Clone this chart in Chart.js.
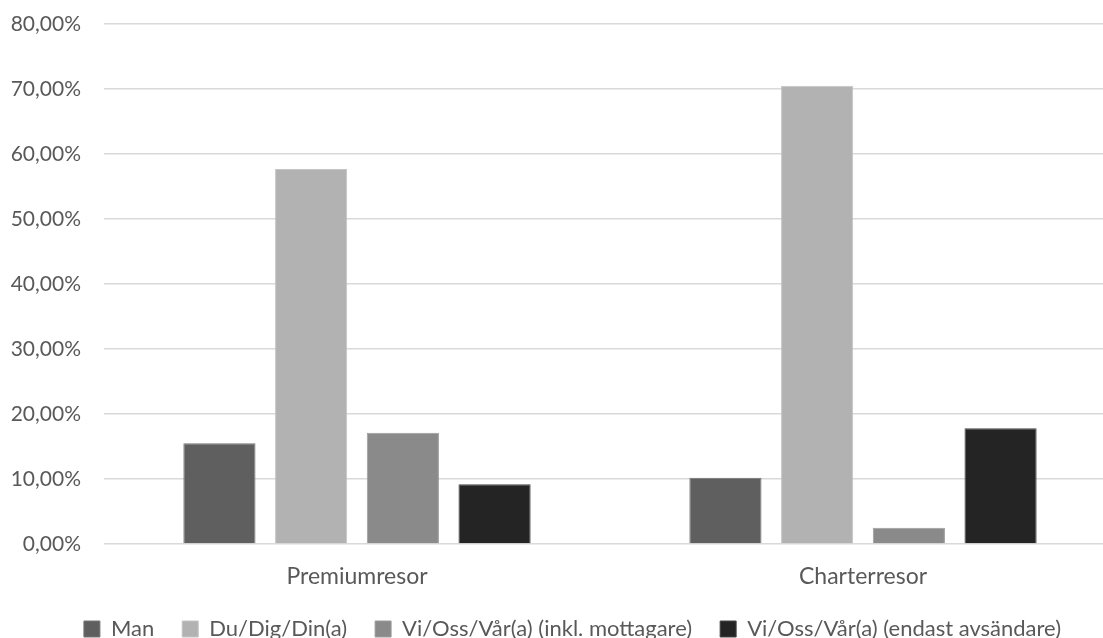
<!DOCTYPE html>
<html lang="sv">
<head>
<meta charset="utf-8">
<title>Tilltal i reseannonser</title>
<script src="https://cdn.jsdelivr.net/npm/chart.js@4.4.1/dist/chart.umd.min.js"></script>
<style>
  html, body { margin: 0; padding: 0; background: #ffffff; overflow: hidden; }
  #wrap { position: relative; width: 1145px; height: 650px; }
</style>
</head>
<body>
<div id="wrap"><canvas id="chart"></canvas></div>
<script>
// Kategorier (resetyp)
const categories = ['Premiumresor', 'Charterresor'];

// Andel tilltal per resetyp, i procent
const manValues = [15.5, 10.2];
const duValues = [57.7, 70.5];
const viInklValues = [17.1, 2.5];
const viEndastValues = [9.2, 17.8];

// Serienamn
const seriesNames = [
  'Man',
  'Du/Dig/Din(a)',
  'Vi/Oss/Vår(a) (inkl. mottagare)',
  'Vi/Oss/Vår(a) (endast avsändare)'
];

// Y-axelns skala
const yMin = 0;
const yMax = 80;
const yStep = 10;

const fillColors = ['#5f5f5f', '#b2b2b2', '#8a8a8a', '#242424'];
const edgeColors = ['#767676', '#c4c4c4', '#9c9c9c', '#474747'];
const textColor = '#595959';
const gridColor = '#d9d9d9';
const fontFamily = 'Lato, "Open Sans", sans-serif';

const seriesValues = [manValues, duValues, viInklValues, viEndastValues];

const datasets = seriesNames.map((name, i) => ({
  label: name,
  data: seriesValues[i],
  backgroundColor: fillColors[i],
  borderColor: edgeColors[i],
  borderWidth: 1,
  categoryPercentage: 0.725,
  barPercentage: 0.787
}));

const formatPercent = v => Number(v).toFixed(2).replace('.', ',') + '%';

new Chart(document.getElementById('chart'), {
  type: 'bar',
  data: { labels: categories, datasets },
  options: {
    responsive: true,
    maintainAspectRatio: false,
    animation: false,
    layout: { padding: { top: 24, right: 0, bottom: 0, left: 0 } },
    plugins: {
      tooltip: { enabled: false },
      legend: {
        position: 'bottom',
        labels: {
          color: textColor,
          font: { family: fontFamily, size: 22 },
          boxWidth: 16,
          boxHeight: 16,
          padding: 28
        }
      }
    },
    scales: {
      x: {
        grid: { display: false, drawTicks: false },
        border: { display: false },
        ticks: {
          color: textColor,
          font: { family: fontFamily, size: 23 },
          padding: 19
        },
        // plottytan slutar en bit före högerkanten
        afterFit: s => { s.height = 46; s.paddingRight = 29; s.paddingLeft = 0; }
      },
      y: {
        min: yMin,
        max: yMax,
        grid: { color: gridColor, lineWidth: 1.5, drawTicks: false },
        border: { display: false },
        ticks: {
          stepSize: yStep,
          color: textColor,
          font: { family: fontFamily, size: 21 },
          padding: 23,
          callback: v => formatPercent(v)
        },
        afterFit: s => { s.width = 104; s.paddingTop = 0; s.paddingBottom = 0; }
      }
    }
  }
});
</script>
</body>
</html>
